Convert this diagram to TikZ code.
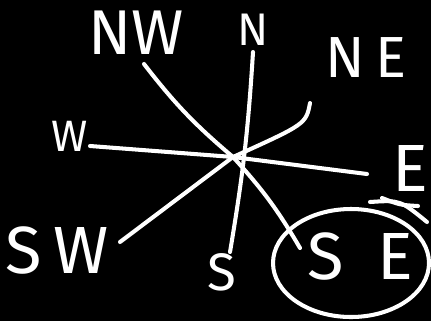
\documentclass[tikz,border=0pt]{standalone}
\usepackage{fontspec}
\setsansfont{Fira Sans}

\begin{document}
\begin{tikzpicture}[
    x=0.02cm, y=-0.02cm, white, line width=2.3pt, line cap=round,
    lbl/.style={font=\sffamily\fontsize{30}{30}\selectfont, text=white, inner sep=0pt}
  ]
    \fill[black] (0,0) rectangle (431,321);
    \useasboundingbox (0,0) rectangle (431,321);
    % labels
    \node[lbl, font=\sffamily\fontsize{36}{36}\selectfont] (nw) at (136,33) {NW};
    \node[lbl, font=\sffamily\fontsize{26}{26}\selectfont] (n) at (253,30) {N};
    \node[lbl, font=\sffamily\fontsize{33}{33}\selectfont] (ne) at (366,58) {N\,E};
    \node[lbl, font=\sffamily\fontsize{25}{25}\selectfont] (w) at (70,136) {W};
    \node[lbl, font=\sffamily\fontsize{38}{38}\selectfont] (e) at (410,168) {E};
    \node[lbl, font=\sffamily\fontsize{38}{38}\selectfont] (sw) at (57,250) {S\,W};
    \node[lbl] (s) at (222,272) {S};
    \node[lbl, font=\sffamily\fontsize{38}{38}\selectfont] (se) at (360,256) {S\hspace{0.5em}E};
    % line ends
    \coordinate (c) at (233,157);
    \coordinate (nw end) at (144,64);
    \coordinate (n end) at (253,52);
    \coordinate (ne end) at (310,103);
    \coordinate (w end) at (90,146);
    \coordinate (e end) at (367,174);
    \coordinate (sw end) at (120,242);
    \coordinate (s end) at (230,252);
    \coordinate (se end) at (300,248);
    \draw (nw end) to[bend right=6] (c);
    \draw (n end) to[bend left=3] (s end);
    \draw (ne end) .. controls (306,124) .. (c);
    \draw (w end) -- (c) -- (e end);
    \draw (sw end) -- (c);
    \draw (c) to[bend left=6] (se end);
    % circled SE
    \draw (351,263) ellipse [x radius=78, y radius=54];
    \draw (370,202) .. controls (400,200) .. (427,222);
    \draw (382,198) .. controls (400,205) .. (418,206);
  \end{tikzpicture}
\end{document}
